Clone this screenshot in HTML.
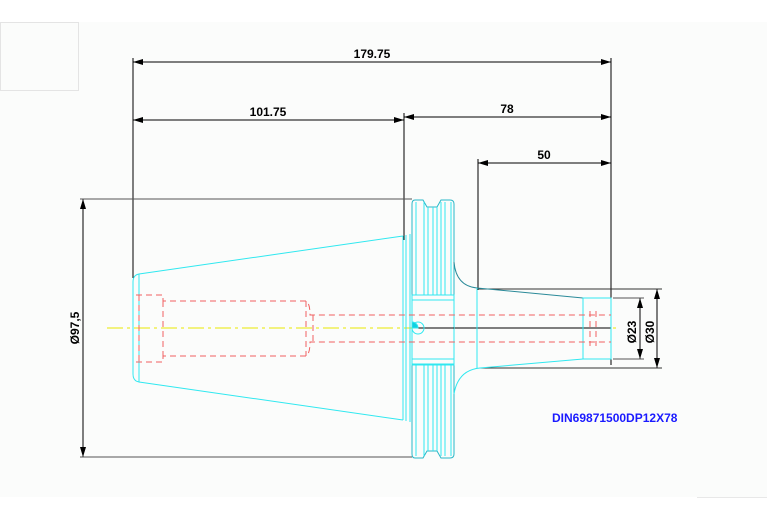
<!DOCTYPE html>
<html><head><meta charset="utf-8"><style>
html,body{margin:0;padding:0;background:#fff;}
svg{display:block;}
text{font-family:"Liberation Sans",sans-serif;font-weight:bold;}
</style></head><body>
<svg width="767" height="523" viewBox="0 0 767 523" xmlns="http://www.w3.org/2000/svg">
<defs>
<marker id="a" viewBox="0 0 10 6" refX="10" refY="3" markerWidth="10" markerHeight="6" orient="auto-start-reverse" markerUnits="userSpaceOnUse"><path d="M0,0 L10,3 L0,6z" fill="#000"/></marker>
</defs>
<rect x="0" y="22" width="767" height="475" fill="#fbfcfb"/>
<rect x="0.5" y="22.5" width="78" height="68" fill="none" stroke="#e4e4e4"/>
<line x1="697" y1="497.5" x2="767" y2="497.5" stroke="#e8e8e8"/>

<!-- dimension lines -->
<g stroke="#000" stroke-width="1" fill="none">
<line x1="133" y1="62" x2="611" y2="62" marker-start="url(#a)" marker-end="url(#a)"/>
<line x1="133" y1="120" x2="404" y2="120" marker-start="url(#a)" marker-end="url(#a)"/>
<line x1="404" y1="117" x2="611" y2="117" marker-start="url(#a)" marker-end="url(#a)"/>
<line x1="478" y1="163" x2="611" y2="163" marker-start="url(#a)" marker-end="url(#a)"/>
<line x1="133" y1="58" x2="133" y2="278"/>
<line x1="404" y1="113" x2="404" y2="240"/>
<line x1="478" y1="159" x2="478" y2="290"/>
<line x1="611" y1="58" x2="611" y2="365"/>
<line x1="83" y1="199" x2="83" y2="457" marker-start="url(#a)" marker-end="url(#a)"/>
<line x1="80" y1="199" x2="412" y2="199" stroke="#555"/>
<line x1="80" y1="457" x2="412" y2="457" stroke="#555"/>
<line x1="640" y1="298" x2="640" y2="359" marker-start="url(#a)" marker-end="url(#a)"/>
<line x1="657" y1="289" x2="657" y2="368" marker-start="url(#a)" marker-end="url(#a)"/>
<line x1="613" y1="298" x2="644" y2="298" stroke="#555"/>
<line x1="613" y1="359" x2="644" y2="359" stroke="#555"/>
<line x1="477" y1="289" x2="662" y2="289" stroke="#333"/>
<line x1="480" y1="368" x2="662" y2="368" stroke="#333"/>
</g>

<!-- centerline -->
<line x1="107" y1="328" x2="620" y2="328" stroke="#e8e800" stroke-width="1" stroke-dasharray="16,4,3,4"/>
<line x1="412" y1="328" x2="611" y2="328" stroke="#000" stroke-width="1"/>

<!-- cyan body -->
<g stroke="#30e8f0" stroke-width="1" fill="none">
<path d="M139,274 L403,236 M139,382 L403,420"/>
<path d="M139,274 Q133,275 133,282 L133,374 Q133,381 139,382 Z"/>
<line x1="139" y1="274" x2="139" y2="382"/>
<line x1="403" y1="236" x2="403" y2="420"/>
<line x1="406" y1="235" x2="406" y2="421"/>
<line x1="410" y1="234" x2="410" y2="422"/>
<path d="M415,200 L423,200 L427,207 L437,207 L441,200 L450,200 Q454,200 454,204 L454,454 Q454,458 450,458 L441,458 L437,451 L427,451 L423,458 L415,458 Q412,458 412,454 L412,204 Q412,200 415,200Z" stroke="#2ab8c8"/>
<line x1="416" y1="202" x2="416" y2="456"/>
<line x1="424" y1="202" x2="424" y2="456"/>
<line x1="428" y1="207" x2="428" y2="451"/>
<line x1="433" y1="207" x2="433" y2="451"/>
<line x1="437" y1="207" x2="437" y2="451"/>
<line x1="441" y1="202" x2="441" y2="456"/>
<line x1="445" y1="202" x2="445" y2="456"/>
<line x1="451" y1="202" x2="451" y2="456"/>
<rect x="412" y="295" width="42" height="70" fill="#fbfcfb"/>
<line x1="412" y1="328" x2="454" y2="328" stroke="#000"/>
<line x1="412" y1="295" x2="454" y2="295"/>
<line x1="412" y1="300" x2="454" y2="300"/>
<line x1="412" y1="359" x2="454" y2="359"/>
<line x1="412" y1="364" x2="454" y2="364"/>
<path d="M454,262 Q456,286 477,288 L583,298" stroke="#2a8a99"/>
<path d="M454,394 Q458,370 480,368 L583,359"/>
<line x1="477" y1="288" x2="477" y2="368"/>
<rect x="583" y="298" width="28" height="61"/>
<circle cx="418" cy="328" r="6"/>
<path d="M412,322 A6,6 0 0 1 418,328 L412,328Z" fill="#10d0e0"/>
</g>

<!-- red hidden lines -->
<g stroke="#f06060" stroke-width="1" fill="none" stroke-dasharray="6,4">
<path d="M136,295 L163,295 L163,301 L306,301 Q310,303 310,315 L313,315 L611,315"/>
<path d="M136,362 L163,362 L163,356 L306,356 Q310,354 310,342 L313,342 L611,342"/>
<line x1="139" y1="295" x2="139" y2="362"/>
<line x1="163" y1="301" x2="163" y2="356"/>
<line x1="306" y1="301" x2="306" y2="356"/>
<line x1="313" y1="315" x2="313" y2="342"/>
<line x1="590" y1="311" x2="590" y2="346"/>
<line x1="596" y1="311" x2="596" y2="346"/>
</g>

<!-- text -->
<g font-size="12" fill="#000" text-anchor="middle">
<text x="372" y="58">179.75</text>
<text x="268" y="116">101.75</text>
<text x="507" y="113">78</text>
<text x="544" y="159">50</text>
<text transform="translate(79,328) rotate(-90)">Ø97,5</text>
<text transform="translate(636,332) rotate(-90)">Ø23</text>
<text transform="translate(654,332) rotate(-90)">Ø30</text>
</g>
<text x="552" y="422" font-size="12" fill="#1a1aff">DIN69871500DP12X78</text>
</svg>
</body></html>
